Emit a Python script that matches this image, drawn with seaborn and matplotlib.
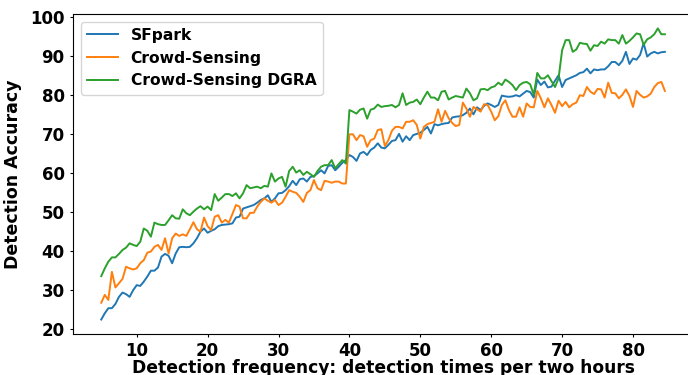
import numpy as np
import pandas as pd
import matplotlib
matplotlib.use("Agg")
import matplotlib.pyplot as plt
import seaborn as sns

# detection frequency (x positions)
freq = np.arange(5, 85, 0.5)

sfpark = [22.5, 24.1, 25.4, 25.4, 26.5, 28.3, 29.4, 29.0, 28.3, 30.0,
          31.3, 31.1, 32.2, 33.5, 35.0, 35.0, 35.8, 38.6, 39.3, 38.8,
          36.9, 39.4, 41.0, 41.1, 41.0, 41.1, 42.0, 43.3, 45.0, 45.8,
          44.7, 45.2, 45.6, 46.4, 46.7, 46.8, 46.9, 47.1, 48.6, 48.8,
          50.9, 51.2, 51.5, 51.8, 52.4, 53.1, 53.5, 54.3, 52.6, 53.5,
          54.8, 54.9, 55.6, 56.6, 58.0, 56.9, 58.4, 58.6, 57.8, 59.0,
          59.2, 59.9, 60.7, 59.9, 61.8, 62.0, 60.7, 61.6, 62.6, 63.3,
          64.6, 64.1, 63.1, 65.0, 65.4, 64.6, 65.9, 66.5, 67.6, 66.5,
          66.3, 67.2, 68.2, 68.4, 70.0, 68.0, 69.4, 68.4, 69.7, 70.0,
          70.3, 71.0, 71.8, 70.1, 72.5, 72.2, 72.5, 72.7, 72.8, 74.2,
          74.4, 74.5, 74.8, 75.4, 76.5, 75.0, 76.8, 76.1, 77.2, 77.8,
          77.4, 76.9, 77.4, 79.8, 79.6, 79.5, 79.6, 79.9, 79.6, 80.3,
          81.0, 80.7, 79.3, 83.9, 82.5, 83.4, 81.9, 82.1, 83.6, 85.0,
          82.0, 83.8, 84.2, 84.6, 85.0, 85.6, 85.8, 86.7, 85.5, 86.5,
          86.3, 86.5, 86.5, 87.3, 88.4, 88.4, 87.6, 88.7, 91.0, 87.9,
          89.3, 89.0, 90.2, 93.2, 89.8, 90.6, 91.0, 90.6, 90.9, 91.0]

crowd = [26.8, 28.8, 27.5, 34.7, 30.7, 31.8, 32.9, 36.0, 35.6, 35.3,
         35.6, 36.9, 37.7, 39.6, 39.9, 41.1, 41.6, 40.3, 43.3, 39.4,
         43.3, 44.5, 43.9, 44.3, 43.9, 45.6, 47.4, 45.6, 45.0, 48.6,
         46.4, 45.4, 48.8, 49.2, 47.3, 48.0, 47.3, 49.5, 51.8, 51.4,
         48.4, 48.4, 49.8, 49.8, 51.4, 52.6, 53.5, 52.9, 52.4, 53.1,
         51.8, 52.4, 53.9, 55.6, 55.2, 54.9, 53.9, 52.6, 54.9, 55.6,
         58.2, 56.1, 55.6, 58.0, 57.8, 57.5, 57.8, 57.8, 57.3, 57.3,
         69.9, 69.9, 68.4, 69.7, 69.4, 66.7, 68.4, 68.8, 71.0, 71.2,
         66.9, 68.4, 70.8, 71.8, 71.8, 71.4, 73.1, 73.1, 73.5, 72.3,
         68.8, 71.8, 72.5, 72.8, 73.1, 76.3, 73.1, 75.9, 74.0, 72.8,
         72.0, 72.3, 78.0, 76.5, 74.4, 76.9, 76.3, 75.7, 77.6, 77.4,
         75.7, 73.5, 74.5, 77.4, 78.6, 76.1, 74.4, 74.4, 76.8, 74.4,
         77.8, 76.9, 76.8, 81.0, 79.1, 76.8, 79.1, 77.4, 75.4, 78.5,
         77.1, 78.2, 76.8, 77.6, 78.0, 79.9, 79.7, 82.0, 80.8, 80.2,
         81.5, 81.4, 79.3, 83.1, 80.5, 80.4, 79.1, 80.0, 81.4, 79.7,
         76.9, 81.0, 80.0, 79.3, 79.6, 80.3, 82.0, 83.0, 83.3, 81.0]

dgra = [33.6, 35.6, 37.3, 38.4, 38.4, 39.3, 40.3, 40.9, 42.0, 41.6,
        41.3, 42.4, 45.8, 45.2, 43.7, 47.3, 46.9, 46.7, 46.7, 47.9,
        49.2, 48.4, 48.3, 50.7, 49.7, 49.2, 50.1, 50.9, 51.5, 50.7,
        51.4, 50.5, 54.6, 52.9, 53.7, 54.6, 54.6, 54.1, 54.8, 53.5,
        54.8, 56.9, 56.1, 56.3, 56.5, 56.1, 56.7, 56.5, 59.9, 57.8,
        58.6, 59.0, 56.5, 60.5, 61.6, 60.1, 60.7, 59.5, 60.3, 59.7,
        59.0, 60.5, 61.6, 62.0, 62.0, 63.3, 61.2, 62.3, 63.3, 62.4,
        76.1, 75.7, 75.2, 76.2, 76.5, 73.9, 76.2, 76.5, 77.5, 76.9,
        77.1, 77.2, 77.4, 76.8, 77.4, 80.4, 77.4, 78.0, 78.2, 78.8,
        77.6, 79.3, 80.8, 79.3, 79.3, 78.6, 80.8, 81.0, 78.8, 79.3,
        79.7, 79.5, 79.3, 81.6, 80.4, 78.6, 79.1, 81.4, 81.5, 81.2,
        81.9, 82.2, 83.1, 82.5, 83.9, 83.3, 82.5, 81.2, 82.5, 83.1,
        83.3, 82.7, 80.0, 85.6, 84.2, 84.2, 85.0, 83.5, 82.0, 84.2,
        91.4, 94.0, 94.0, 91.0, 91.6, 93.3, 93.1, 93.0, 91.3, 92.7,
        92.5, 93.6, 93.1, 94.2, 94.0, 94.0, 93.1, 95.3, 93.1, 93.8,
        94.7, 95.7, 95.5, 92.8, 94.2, 94.7, 95.5, 97.0, 95.5, 95.5]

labels = ["SFpark", "Crowd-Sensing", "Crowd-Sensing DGRA"]
colors = ["#1f77b4", "#ff7f0e", "#2ca02c"]

fig = plt.figure(figsize=(6.88, 3.75), dpi=100)
ax = fig.add_axes([0.1062, 0.1091, 0.9012, 0.854])

for vals, lab, col in zip([sfpark, crowd, dgra], labels, colors):
    df = pd.DataFrame({"x": freq, "y": vals})
    sns.lineplot(data=df, x="x", y="y", ax=ax, color=col, label=lab, linewidth=1.4)

ax.set_yticks([20, 30, 40, 50, 60, 70, 80, 90, 100])
ax.set_xticks([10, 20, 30, 40, 50, 60, 70, 80])
ax.tick_params(length=2.5)
for t in ax.get_xticklabels() + ax.get_yticklabels():
    t.set_fontweight("bold")
    t.set_fontsize(12)
ax.set_xlabel("Detection frequency: detection times per two hours", fontsize=12.3, fontweight="bold", labelpad=-1)
ax.set_ylabel("Detection Accuracy", fontsize=12.5, fontweight="bold", labelpad=6)
ax.legend(loc="upper left", prop={"weight": "bold", "size": 11.2}, labelspacing=0.5)

fig.savefig("out.png", dpi=100)
